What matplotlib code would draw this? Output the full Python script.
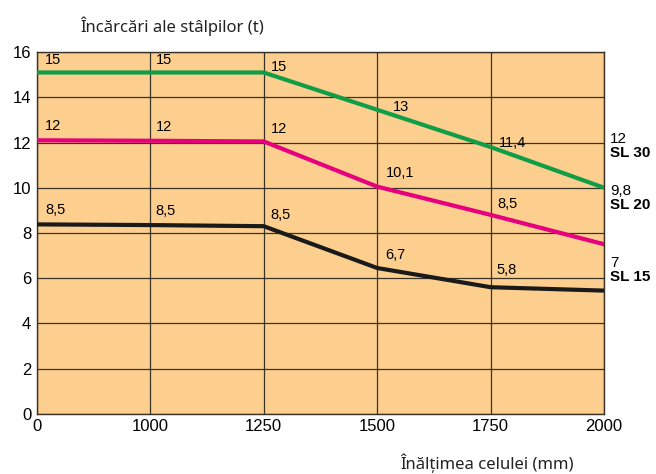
import numpy as np
import matplotlib.pyplot as plt

plt.rcParams['font.family'] = ['Liberation Sans', 'DejaVu Sans']

inaltimi = ["0", "1000", "1250", "1500", "1750", "2000"]
sl30 = [15.1, 15.1, 15.1, 13.45, 11.8, 10.0]
sl20 = [12.1, 12.08, 12.05, 10.05, 8.8, 7.5]
sl15 = [8.38, 8.35, 8.3, 6.45, 5.6, 5.45]
et30 = ["15", "15", "15", "13", "11,4"]
et20 = ["12", "12", "12", "10,1", "8,5"]
et15 = ["8,5", "8,5", "8,5", "6,7", "5,8"]

# decalaje etichete (puncte)
off30 = [(6, 4), (4, 4), (5, -1), (11, -3), (6, -2)]
off20 = [(6, 5), (4, 5), (5, 4), (6, 5), (5, 3)]
off15 = [(6, 5), (4, 5), (5, 3), (6, 4), (4, 7)]

fig = plt.figure(figsize=(6.56, 4.74), dpi=100)
ax = fig.add_axes([0.056, 0.127, 0.865, 0.763])
ax.set_facecolor('#fdcf8f')

x = np.arange(len(inaltimi))
ax.plot(x, sl30, color='#0f9d48', lw=3, solid_joinstyle='round', zorder=3)
ax.plot(x, sl20, color='#e6007e', lw=3, solid_joinstyle='round', zorder=3)
ax.plot(x, sl15, color='#1a1a1a', lw=3, solid_joinstyle='round', zorder=3)

# etichete valori
for serie, et, off in [(sl30, et30, off30), (sl20, et20, off20), (sl15, et15, off15)]:
    for i, t in enumerate(et):
        ax.annotate(t, (x[i], serie[i]), xytext=off[i], textcoords='offset points',
                    fontsize=10.5, ha='left', va='bottom', zorder=4)

ax.set_xlim(0, 5)
ax.set_ylim(0, 16)
ax.set_xticks(x)
ax.set_xticklabels(inaltimi, fontsize=12)
ax.set_yticks(np.arange(0, 17, 2))
ax.set_yticklabels([str(v) for v in range(0, 17, 2)], fontsize=12)
ax.tick_params(length=0, pad=4)
ax.grid(True, color='#3a3226', lw=0.9)
ax.set_axisbelow(True)
for s in ax.spines.values():
    s.set_color('#3a3226')
    s.set_linewidth(1)

# etichete dreapta
for yv, sus, jos in [(11.85, "12", "SL 30"), (9.55, "9,8", "SL 20"), (6.35, "7", "SL 15")]:
    ax.text(5.05, yv, sus, fontsize=11, ha='left', va='bottom', clip_on=False)
    ax.text(5.05, yv, jos, fontsize=11, fontweight='bold', ha='left', va='top', clip_on=False)

fig.text(0.122, 0.945, "Încărcări ale stâlpilor (t)", fontsize=12, family=['Noto Sans', 'DejaVu Sans'],
         color='#222222', ha='left', va='center')
fig.text(0.61, 0.022, "Înălțimea celulei (mm)", fontsize=12, family=['Noto Sans', 'DejaVu Sans'],
         color='#222222', ha='left', va='center')

fig.savefig('out.png', dpi=100)
